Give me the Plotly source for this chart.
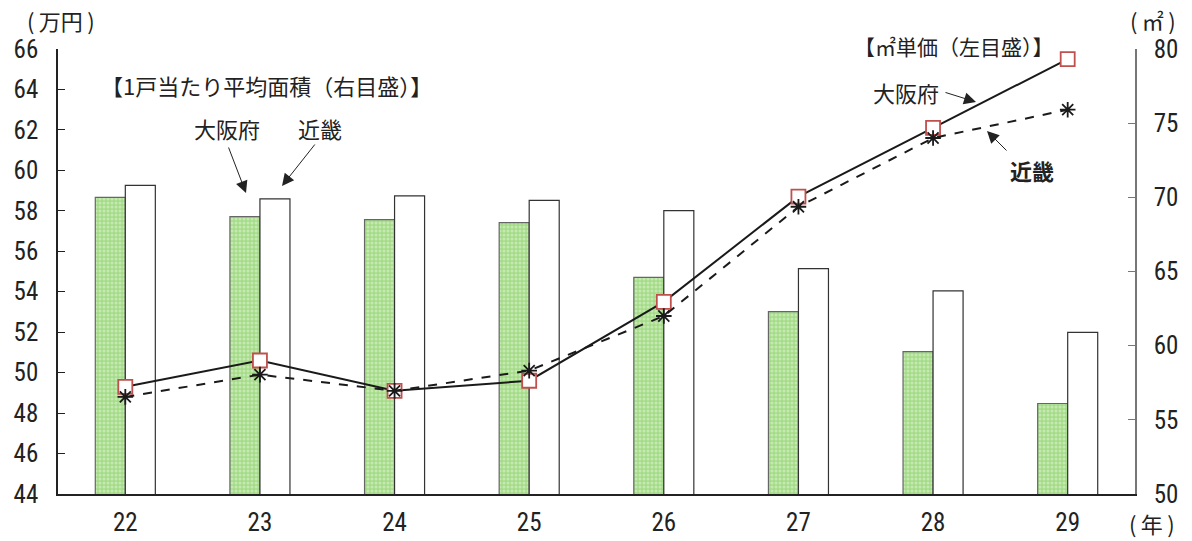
import plotly.graph_objects as go

years = ["22", "23", "24", "25", "26", "27", "28", "29"]
area_osaka = [70.0, 68.7, 68.5, 68.3, 64.6, 62.3, 59.6, 56.1]
area_kinki = [70.8, 69.9, 70.1, 69.8, 69.1, 65.2, 63.7, 60.9]
price_osaka = [49.3, 50.6, 49.1, 49.6, 53.5, 58.7, 62.1, 65.5]
price_kinki = [48.8, 49.9, 49.1, 50.1, 52.8, 58.2, 61.6, 63.0]

left_ticks = list(range(44, 67, 2))
right_ticks = list(range(50, 81, 5))

NUM_FONT = "Liberation Sans Narrow, Arial Narrow, Roboto Condensed, sans-serif"
JP_FONT = "Noto Sans CJK JP, sans-serif"

fig = go.Figure()
fig.add_trace(go.Bar(
    x=years, y=area_osaka, name="大阪府(面積)", yaxis="y",
    marker=dict(color="#a6dc8a", line=dict(color="#666666", width=1.2),
                pattern=dict(shape=".", fgcolor="#eaf8e2", bgcolor="#a3db86", size=4, solidity=0.45)),
))
fig.add_trace(go.Bar(
    x=years, y=area_kinki, name="近畿(面積)", yaxis="y",
    marker=dict(color="white", line=dict(color="#333333", width=1.2)),
))
fig.add_trace(go.Scatter(
    x=years, y=price_osaka, name="大阪府(単価)", yaxis="y2", mode="lines+markers",
    line=dict(color="#1a1a1a", width=2),
    marker=dict(symbol="square", size=14, color="white", line=dict(color="#c0504d", width=1.8)),
))
fig.add_trace(go.Scatter(
    x=years, y=price_kinki, name="近畿(単価)", yaxis="y2", mode="lines+markers",
    line=dict(color="#1a1a1a", width=2, dash="dash"),
    marker=dict(symbol="asterisk-open", size=13, color="#1a1a1a", line=dict(color="#1a1a1a", width=1.8)),
))

fig.update_layout(
    width=1192, height=541,
    margin=dict(l=58, r=57, t=49, b=47, autoexpand=False),
    paper_bgcolor="white", plot_bgcolor="white",
    showlegend=False,
    barmode="group", bargap=0.554, bargroupgap=0,
    font=dict(family=NUM_FONT, size=25, color="#222222"),
    xaxis=dict(
        type="category", showline=True, linecolor="#222222", linewidth=1.5,
        ticks="", showgrid=False, tickfont=dict(family=NUM_FONT, size=25),
        ticklabelstandoff=5, automargin=False,
    ),
    yaxis=dict(
        side="right", range=[50, 80], tickvals=right_ticks,
        showline=True, linecolor="#777777", linewidth=1.5,
        ticks="inside", ticklen=7, tickcolor="#777777", showgrid=False, zeroline=False,
        tickfont=dict(family=NUM_FONT, size=25), ticklabelstandoff=12, automargin=False,
    ),
    yaxis2=dict(
        side="left", overlaying="y", range=[44, 66], tickvals=left_ticks,
        showline=True, linecolor="#222222", linewidth=1.5,
        ticks="inside", ticklen=7, tickcolor="#222222", showgrid=False, zeroline=False,
        tickfont=dict(family=NUM_FONT, size=25), ticklabelstandoff=13, automargin=False,
    ),
)

L, R, T, B = 58, 1135, 49, 494
def px(x):
    return (x - L) / (R - L)
def py(y):
    return (B - y) / (B - T)

def txt(x, y, s, size=17, bold=False):
    fig.add_annotation(x=px(x), y=py(y), xref="paper", yref="paper",
                       text=f"<b>{s}</b>" if bold else s, showarrow=False,
                       font=dict(family=JP_FONT, size=size, color="#222222"),
                       xanchor="center", yanchor="middle")

txt(61, 20, "(\u2009万円\u2009)", size=22)
txt(1153, 20, "(\u2009㎡\u2009)", size=22)
txt(266, 85, "【1戸当たり平均面積（右目盛）】", size=22)
txt(227, 128, "大阪府", size=22)
txt(320, 128, "近畿", size=22)
txt(954, 46, "【㎡単価（左目盛）】", size=21)
txt(906, 92, "大阪府", size=22)
txt(1032, 170, "近畿", size=22, bold=True)
txt(1152, 523, "(\u2009年\u2009)", size=22)

def arrow(x0, y0, x1, y1):
    fig.add_annotation(x=px(x1), y=py(y1), ax=x0 - x1, ay=y0 - y1, xref="paper", yref="paper",
                       axref="pixel", ayref="pixel", text="", showarrow=True,
                       arrowhead=2, arrowsize=2.4, arrowwidth=1, arrowcolor="#222222")

arrow(228, 146, 246, 193)
arrow(316, 143, 282, 186)
arrow(944, 92, 976, 102)
arrow(1008, 152, 987, 131)

fig.write_html("out.html", config={"displayModeBar": False},
               post_script="document.body.style.margin='0';")
